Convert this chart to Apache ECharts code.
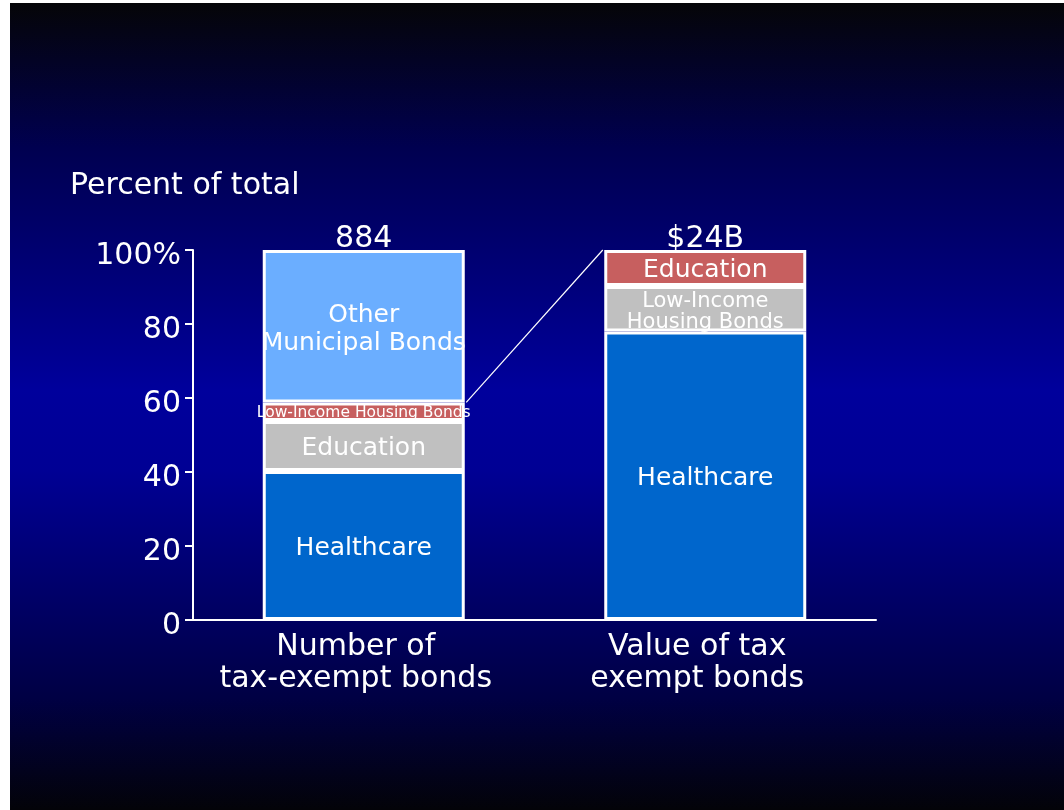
<!DOCTYPE html>
<html><head><meta charset="utf-8">
<script src="https://cdn.jsdelivr.net/npm/echarts@6/dist/echarts.min.js"></script>
<style>
html,body{margin:0;padding:0;background:#fff;width:1064px;height:810px;overflow:hidden}
#c{position:absolute;left:10px;top:3px;width:1054px;height:807px;
background:linear-gradient(to bottom,#050508 0%,#000050 18%,#00009c 48%,#000094 58%,#000044 86%,#030308 100%)}
</style></head>
<body><div id="c"></div>
<script>
// ---- data ----
const categories = ['Number of\ntax-exempt bonds', 'Value of tax\nexempt bonds'];
const totals = ['884', '$24B'];
const yTickLabels = ['0', '20', '40', '60', '80', '100%'];
// stack levels, bottom to top
const level1Values = [40.3, 78.0];
const level1Labels = ['Healthcare', 'Healthcare'];
const level2Values = [13.5, 12.3];
const level2Labels = ['Education', 'Low-Income\nHousing Bonds'];
const level3Values = [5.0, 9.7];
const level3Labels = ['Low-Income Housing Bonds', 'Education'];
const level4Values = [41.2, null];
const level4Labels = ['Other\nMunicipal Bonds', ''];

// ---- styling ----
const FONT = 'DejaVu Sans';
const BAR_W = 202;
const colors = ['#0066cc', '#c0c0c0', '#c75f5f', '#6baeff'];
const labelOverrides = [
  [{}, {}],
  [{}, {fontSize: 21, lineHeight: 21}],
  [{fontSize: 15.5, lineHeight: 16, offset: [0, 1]}, {}],
  [{}, {}]
];

function mk(idx, vals, labels) {
  return {
    type: 'bar', stack: 'total', barWidth: BAR_W,
    data: vals.map((v, i) => ({
      value: v == null ? '-' : v,
      label: Object.assign({formatter: labels[i]}, labelOverrides[idx][i])
    })),
    itemStyle: {color: colors[idx], borderColor: '#ffffff', borderWidth: 3},
    label: {show: true, position: 'inside', color: '#ffffff', fontFamily: FONT,
            fontSize: 25, lineHeight: 28, offset: [0, 3]},
    emphasis: {disabled: true}
  };
}

const chart = echarts.init(document.getElementById('c'), null, {renderer: 'canvas'});
const option = {
  backgroundColor: 'transparent',
  animation: false,
  textStyle: {fontFamily: FONT},
  title: {
    text: 'Percent of total', left: 55, top: 161,
    textStyle: {color: '#ffffff', fontSize: 30, fontWeight: 'normal', fontFamily: FONT, lineHeight: 34}
  },
  grid: {left: 183, top: 247, right: 188, bottom: 190},
  xAxis: [
    {
      type: 'category', data: categories, position: 'bottom',
      axisLine: {show: true, lineStyle: {color: '#ffffff', width: 2}},
      axisTick: {show: false},
      axisLabel: {color: '#ffffff', fontSize: 30, lineHeight: 32, margin: 11, fontFamily: FONT,
                  interval: 0, hideOverlap: false,
                  formatter: (v) => v.split('\n').map(s => '{c|' + s + '}').join('\n'),
                  rich: {c: {color: '#ffffff', fontSize: 30, lineHeight: 32, fontFamily: FONT,
                             padding: [0, 16, 0, 0]}}}
    },
    {
      type: 'category', data: totals, position: 'top',
      axisLine: {show: false}, axisTick: {show: false},
      axisLabel: {color: '#ffffff', fontSize: 30, margin: -4, fontFamily: FONT, interval: 0}
    }
  ],
  yAxis: {
    type: 'value', min: 0, max: 100, interval: 20,
    axisLine: {show: true, lineStyle: {color: '#ffffff', width: 2}},
    axisTick: {show: true, length: 8, lineStyle: {color: '#ffffff', width: 2}},
    splitLine: {show: false},
    axisLabel: {color: '#ffffff', fontSize: 30, margin: 12, fontFamily: FONT,
      formatter: (v) => '{t|' + yTickLabels[Math.round(v / 20)] + '}',
      rich: {t: {color: '#ffffff', fontSize: 30, fontFamily: FONT, padding: [12, 0, 0, 0]}}}
  },
  series: [
    mk(0, level1Values, level1Labels),
    mk(1, level2Values, level2Labels),
    mk(2, level3Values, level3Labels),
    mk(3, level4Values, level4Labels)
  ]
};
chart.setOption(option);

// connector line from left bar (top of low-income segment) to right bar top
const leftTop = level1Values[0] + level2Values[0] + level3Values[0];
const rightTop = level1Values[1] + level2Values[1] + level3Values[1];
const p1 = chart.convertToPixel({seriesIndex: 0}, [0, leftTop]);
const p2 = chart.convertToPixel({seriesIndex: 0}, [1, rightTop]);
chart.setOption({
  graphic: [{
    type: 'line', z: 10,
    shape: {x1: p1[0] + BAR_W / 2 + 1.5, y1: p1[1], x2: p2[0] - BAR_W / 2 - 1.5, y2: p2[1]},
    style: {stroke: '#ffffff', lineWidth: 1.2}
  }]
});
</script>
</body></html>
